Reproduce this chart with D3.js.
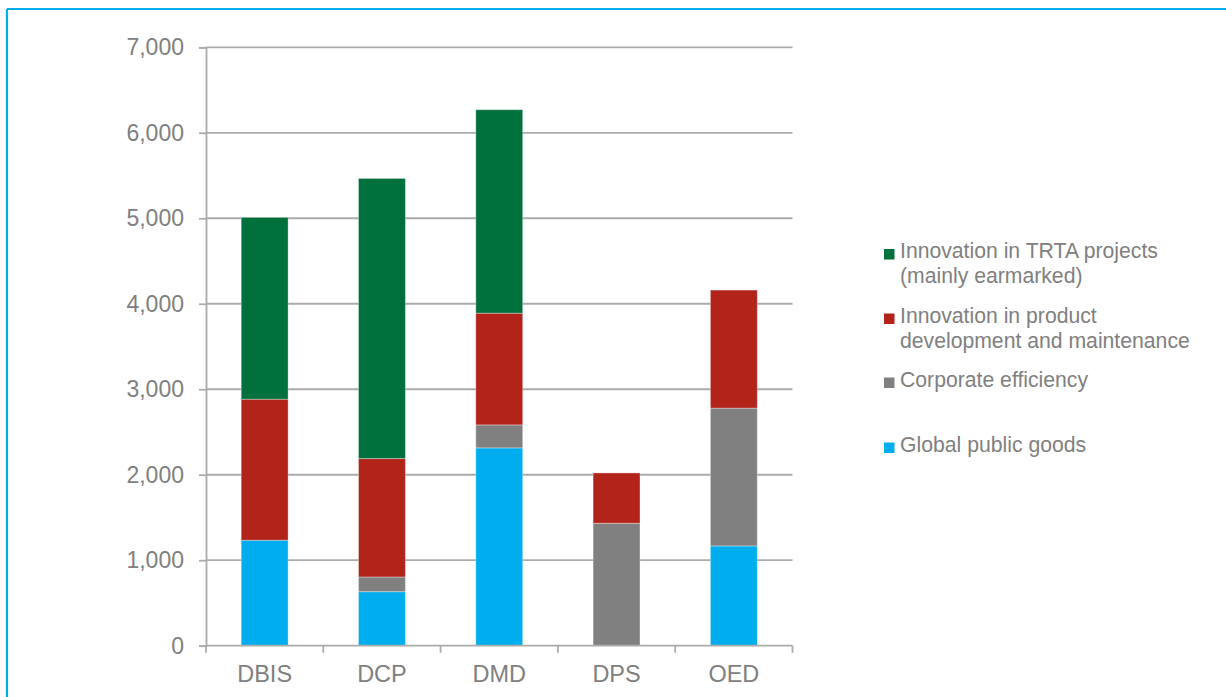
<!DOCTYPE html>
<html>
<head>
<meta charset="utf-8">
<script src="https://cdn.jsdelivr.net/npm/d3@7"></script>
<style>
  html, body { margin: 0; padding: 0; background: #fff; }
  svg { display: block; }
  text { font-family: "Liberation Sans", Arial, sans-serif; fill: #808080; }
</style>
</head>
<body>
<svg id="chart" width="1226" height="697"></svg>
<script>
// Departments on the x axis
const categories = ["DBIS", "DCP", "DMD", "DPS", "OED"];

// Stack segments, bottom to top
const globalPublicGoods   = [1234, 632, 2314, 0, 1167];
const corporateEfficiency = [0, 172, 269, 1432, 1612];
const productInnovation   = [1650, 1385, 1307, 589, 1381];
const trtaInnovation      = [2126, 3277, 2380, 0, 0];

const yTicks = [0, 1000, 2000, 3000, 4000, 5000, 6000, 7000];

const seriesNames = [
  "Global public goods",
  "Corporate efficiency",
  "Innovation in product development and maintenance",
  "Innovation in TRTA projects (mainly earmarked)"
];
const seriesColors = ["#00AEEF", "#808080", "#B2231A", "#00703C"];

const rows = categories.map((c, i) => ({
  cat: c,
  s0: globalPublicGoods[i],
  s1: corporateEfficiency[i],
  s2: productInnovation[i],
  s3: trtaInnovation[i]
}));
const keys = ["s0", "s1", "s2", "s3"];
const stacked = d3.stack().keys(keys)(rows);

const svg = d3.select("#chart");

// Frame lines along the top and left edges
svg.append("line").attr("x1", 7).attr("x2", 1226).attr("y1", 9).attr("y2", 9)
  .attr("stroke", "#00AEEF").attr("stroke-width", 2.2);
svg.append("line").attr("x1", 7).attr("x2", 7).attr("y1", 9).attr("y2", 697)
  .attr("stroke", "#00AEEF").attr("stroke-width", 2.2);

const x = d3.scaleBand().domain(categories).range([206, 792.5]).paddingInner(0.6).paddingOuter(0.3);
const y = d3.scaleLinear().domain([0, 7000]).range([645.7, 47.3]);

const gridColor = "#ABABAB";

// Horizontal gridlines
svg.append("g").selectAll("line").data(yTicks.slice(1)).join("line")
  .attr("x1", 206).attr("x2", 792.5)
  .attr("y1", d => y(d)).attr("y2", d => y(d))
  .attr("stroke", gridColor).attr("stroke-width", 1.8);

// Y axis
const yAxis = svg.append("g").attr("transform", "translate(206,0)")
  .call(d3.axisLeft(y).tickValues(yTicks).tickSize(7).tickPadding(15)
    .tickFormat(d3.format(",")));
yAxis.select(".domain").attr("stroke", gridColor).attr("stroke-width", 1.8);
yAxis.selectAll(".tick line").attr("stroke", gridColor).attr("stroke-width", 1.8);
yAxis.selectAll("text").attr("font-size", 23).attr("fill", "#808080")
  .attr("font-family", "Liberation Sans, Arial, sans-serif");

// Bars
svg.append("g").selectAll("g").data(stacked).join("g")
  .attr("fill", (d, i) => seriesColors[i])
  .selectAll("rect").data(d => d.filter(p => p[1] - p[0] > 0)).join("rect")
  .attr("x", d => x(d.data.cat))
  .attr("width", x.bandwidth())
  .attr("y", d => y(d[1]))
  .attr("height", d => y(d[0]) - y(d[1]))
  .attr("stroke", "rgba(255,255,255,0.35)")
  .attr("stroke-width", 1);

// X axis with ticks between categories
const xAxisG = svg.append("g").attr("transform", "translate(0,645.7)");
xAxisG.append("line").attr("x1", 206).attr("x2", 792.5).attr("y1", 0).attr("y2", 0)
  .attr("stroke", gridColor).attr("stroke-width", 1.8);
const boundaries = d3.range(categories.length + 1).map(i => 206 + i * (792.5 - 206) / categories.length);
xAxisG.selectAll(".xt").data(boundaries).join("line")
  .attr("x1", d => d).attr("x2", d => d).attr("y1", 0).attr("y2", 7)
  .attr("stroke", gridColor).attr("stroke-width", 1.8);
xAxisG.selectAll("text").data(categories).join("text")
  .attr("x", d => x(d) + x.bandwidth() / 2)
  .attr("y", 36)
  .attr("text-anchor", "middle")
  .attr("font-size", 23.5)
  .text(d => d);

// Legend, listed top to bottom from the top of the stack
const legendItems = [
  { color: seriesColors[3], lines: ["Innovation in TRTA projects", "(mainly earmarked)"], y: 258 },
  { color: seriesColors[2], lines: ["Innovation in product", "development and maintenance"], y: 322.5 },
  { color: seriesColors[1], lines: ["Corporate efficiency"], y: 386.5 },
  { color: seriesColors[0], lines: ["Global public goods"], y: 451.5 }
];
const lg = svg.append("g").selectAll("g").data(legendItems).join("g");
lg.append("rect")
  .attr("x", 884).attr("y", d => d.y - 9).attr("width", 10.5).attr("height", 10.5)
  .attr("fill", d => d.color);
lg.append("text")
  .attr("x", 900).attr("y", d => d.y)
  .attr("font-size", 21.2)
  .selectAll("tspan").data(d => d.lines).join("tspan")
  .attr("x", 900).attr("dy", (d, i) => i === 0 ? 0 : 25)
  .text(d => d);
</script>
</body>
</html>
